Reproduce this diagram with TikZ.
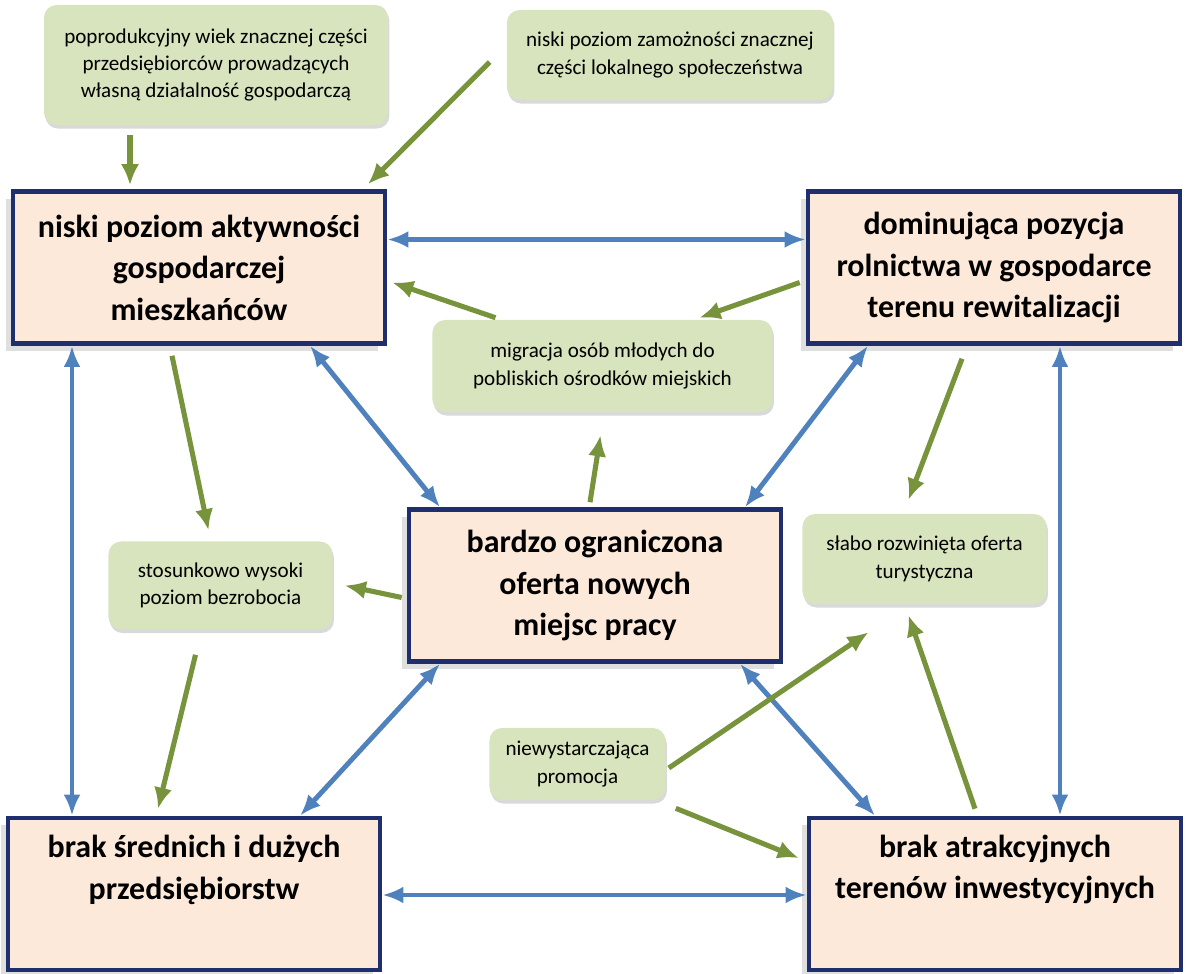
\documentclass[tikz,border=0pt]{standalone}
\usepackage{fontspec}
\setmainfont{Carlito}
\usetikzlibrary{arrows.meta,calc,shadows}

\definecolor{framenavy}{HTML}{1F2F6E}
\definecolor{peach}{HTML}{FDE9D9}
\definecolor{sage}{HTML}{D7E4BD}
\definecolor{arrowblue}{HTML}{4F81BD}
\definecolor{arrowgreen}{HTML}{77933C}

\begin{document}
\begin{tikzpicture}[x=0.025cm, y=-0.025cm,
			mainbox/.style={rectangle, draw=framenavy, fill=peach, line width=3.2pt, minimum width=9.3cm, minimum height=3.8cm, align=center, font=\fontsize{22.7}{29.5}\selectfont\bfseries, drop shadow={shadow xshift=-5pt, shadow yshift=-5pt, opacity=0.25}},
			causebox/.style={rectangle, rounded corners=9pt, fill=sage, align=center, font=\fontsize{15}{19.5}\selectfont, drop shadow={shadow xshift=1pt, shadow yshift=-2.5pt, opacity=0.3}},
			both/.style={{Latex[length=15pt, width=12pt]}-{Latex[length=15pt, width=12pt]}, arrowblue, line width=3.5pt},
			leads/.style={-{Latex[length=15pt, width=13pt]}, arrowgreen, line width=3.6pt},
		]
		
			\useasboundingbox (0,0) rectangle (1186,974);
		
			%Nodes
			\node[mainbox]	(A)	at (199,267.5)	{niski poziom aktywności\\gospodarczej\\mieszkańców};
			\node[mainbox]	(B)	at (994,267.5)	{dominująca pozycja\\rolnictwa w gospodarce\\terenu rewitalizacji};
			\node[mainbox]	(C)	at (595,585.5)	{bardzo ograniczona\\oferta nowych\\miejsc pracy};
			\node[mainbox]	(D)	at (194,894)	{brak średnich i dużych\\przedsiębiorstw\\ \strut};
			\node[mainbox]	(E)	at (995,894)	{brak atrakcyjnych\\terenów inwestycyjnych\\ \strut};
		
			\node[causebox, minimum width=8.6cm, minimum height=3cm]	(G1)	at (216,65)	{poprodukcyjny wiek znacznej części\\przedsiębiorców prowadzących\\własną działalność gospodarczą};
			\node[causebox, minimum width=8.15cm, minimum height=2.25cm]	(G2)	at (670,55)	{niski poziom zamożności znacznej\\części lokalnego społeczeństwa};
			\node[causebox, minimum width=8.5cm, minimum height=2.3cm]	(G3)	at (602.5,366)	{migracja osób młodych do\\pobliskich ośrodków miejskich};
			\node[causebox, minimum width=5.6cm, minimum height=2.2cm]	(G4)	at (220.5,585.5)	{stosunkowo wysoki\\poziom bezrobocia};
			\node[causebox, minimum width=6.1cm, minimum height=2.25cm]	(G5)	at (924.5,559)	{słabo rozwinięta oferta\\turystyczna};
			\node[causebox, minimum width=4.4cm, minimum height=1.8cm]	(G6)	at (577.5,764)	{niewystarczająca\\promocja};
		
			%Lines
			\draw[both]	($(A.east)+(0,-28)$) -- ($(B.west)+(0,-28)$);
			\draw[both]	($(A.south)+(-127,0)$) -- ($(D.north)+(-122,0)$);
			\draw[both]	($(A.south)+(111,0)$) -- ($(C.north)+(-155,0)$);
			\draw[both]	($(B.south)+(-126,0)$) -- ($(C.north)+(150,0)$);
			\draw[both]	($(B.south)+(66,0)$) -- ($(E.north)+(65,0)$);
			\draw[both]	($(C.south)+(-155,0)$) -- ($(D.north)+(106,0)$);
			\draw[both]	($(C.south)+(145,0)$) -- ($(E.north)+(-120,0)$);
			\draw[both]	($(D.east)+(0,1)$) -- ($(E.west)+(0,1)$);
		
			\draw[leads]	($(G1.south)+(-86,10)$) -- ($(A.north)+(-69,-4)$);
			\draw[leads]	($(G2.west)+(-17,7)$) -- ($(A.north)+(169,-5)$);
			\draw[leads]	($(G3.north)+(-107,-2)$) -- ($(A.east)+(5,15)$);
			\draw[leads]	($(B.west)+(-6,15)$) -- ($(G3.north)+(97,-2)$);
			\draw[leads]	($(C.north)+(-5,-5)$) -- ($(G3.south)+(-2,23)$);
			\draw[leads]	($(A.south)+(-27,10)$) -- ($(G4.north)+(-12,-11)$);
			\draw[leads]	($(C.west)+(-5,12)$) -- ($(G4.east)+(12,0)$);
			\draw[leads]	($(G4.south)+(-25,25)$) -- ($(D.north)+(-36,-7)$);
			\draw[leads]	($(B.south)+(-32,13)$) -- ($(G5.north)+(-16,-14)$);
			\draw[leads]	($(G6.east)+(3,4)$) -- ($(G5.south)+(-56,28)$);
			\draw[leads]	($(E.north)+(-20,-7)$) -- ($(G5.south)+(-16,11)$);
			\draw[leads]	($(G6.south east)+(10,8)$) -- ($(E.west)+(-8,-36)$);
		
		\end{tikzpicture}
\end{document}
